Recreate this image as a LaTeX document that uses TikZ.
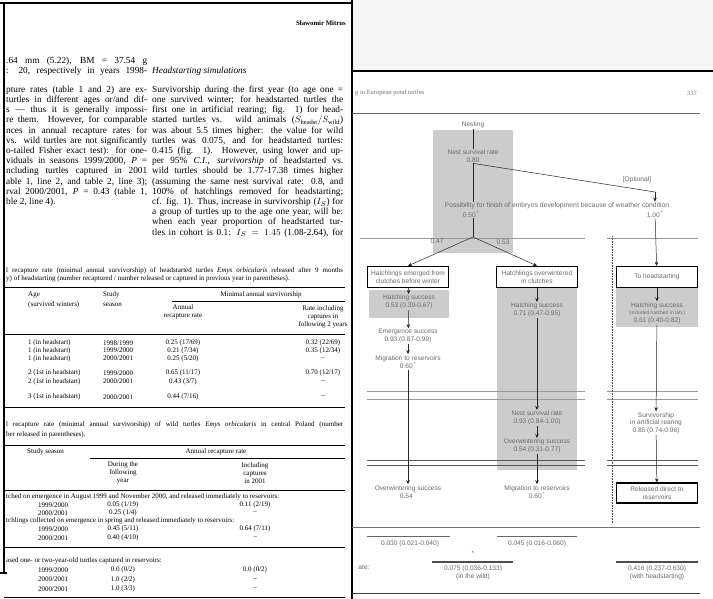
\documentclass[tikz,border=0pt]{standalone}
\usepackage{fontspec}
\setmainfont{Liberation Serif}
\newfontfamily\flowfont{Liberation Sans}
\usetikzlibrary{arrows.meta}

% justified lines of the page text
\newcommand{\lcline}[1]{\makebox[141pt][s]{#1}}
\newcommand{\rcline}[1]{\makebox[191pt][s]{#1}}
\newcommand{\capline}[1]{\makebox[337pt][s]{#1}}

\begin{document}
\begin{tikzpicture}[x=1pt,y=-1pt,
    body/.style={anchor=west,inner sep=0pt,font=\fontsize{9.3}{10}\selectfont},
    tab/.style={inner sep=0pt,font=\fontsize{7}{8}\selectfont},
    flow/.style={inner sep=1pt,align=center,text=black!58,font=\flowfont\fontsize{6.6}{7.5}\selectfont},
    flowbox/.style={flow,draw=black,line width=1.3pt,fill=white,minimum width=81pt,minimum height=21pt},
    farrow/.style={-{Stealth[length=4pt,width=3.6pt]},black!85,line width=0.5pt},
    fline/.style={black!85,line width=0.5pt},
    band/.style={black!40,line width=0.6pt},
    tabrule/.style={line width=1pt},
    subrule/.style={line width=0.5pt}]

    % Pages
    \useasboundingbox (0,0) rectangle (713,599);
    \fill[white] (0,0) rectangle (713,599);
    \fill[black!4] (352,0) rectangle (713,71);
    \draw[line width=2pt] (0,3) -- (352,3);
    \draw[line width=1.6pt] (4,3) -- (4,573);
    \draw[line width=1.2pt] (0,573) -- (7,573);
    \draw[line width=2pt] (352,0) -- (352,599);
    \draw[line width=1.5pt] (352,71) -- (713,71);

    % Left page text
    \node[anchor=east,inner sep=0pt,font=\fontsize{6.8}{8}\bfseries\selectfont] (runhead) at (346,23) {Sławomir Mitrus};
    \node[body] (lcA) at (6,61) {\lcline{.64 mm (5.22), BM = 37.54 g}};
    \node[body] (lcB) at (6,71) {\lcline{: 20, respectively in years 1998-}};
    \foreach \t [count=\i] in {{pture rates (table 1 and 2) are ex-},
        {turtles in different ages or/and dif-},
        {s — thus it is generally impossi-},
        {re them. However, for comparable},
        {nces in annual recapture rates for},
        {vs. wild turtles are not significantly},
        {o-tailed Fisher exact test): for one-},
        {viduals in seasons 1999/2000, \textit{P} =},
        {ncluding turtles captured in 2001},
        {able 1, line 2, and table 2, line 3);},
        {rval 2000/2001, \textit{P} = 0.43 (table 1,}}
        \node[body] (lc\i) at (6,{90+(\i-1)*10.2}) {\lcline{\t}};
    \node[body] (lcend) at (6,202.2) {ble 2, line 4).};

    \node[body] (rchead) at (152,71) {\textit{Headstarting simulations}};
    \foreach \t [count=\i] in {{Survivorship during the first year (to age one =},
        {one survived winter; for headstarted turtles the},
        {first one in artificial rearing; fig. 1) for head-},
        {started turtles vs. wild animals ($S_{\mathrm{headst}}/S_{\mathrm{wild}}$)},
        {was about 5.5 times higher: the value for wild},
        {turtles was 0.075, and for headstarted turtles:},
        {0.415 (fig. 1). However, using lower and up-},
        {per 95\% \textit{C.I.}, \textit{survivorship} of headstarted vs.},
        {wild turtles should be 1.77-17.38 times higher},
        {(assuming the same nest survival rate: 0.8, and},
        {100\% of hatchlings removed for headstarting;},
        {cf. fig. 1). Thus, increase in survivorship ($I_S$) for},
        {a group of turtles up to the age one year, will be:},
        {when each year proportion of headstarted tur-},
        {tles in cohort is 0.1: $I_S = 1.45$ (1.08-2.64), for}}
        \node[body] (rc\i) at (152,{90+(\i-1)*10.2}) {\rcline{\t}};

    % Table 1
    \node[tab,anchor=west] (capA1) at (6,271) {\capline{l recapture rate (minimal annual survivorship) of headstarted turtles \textit{Emys orbicularis} released after 9 months}};
    \node[tab,anchor=west] (capA2) at (6,279) {y) of headstarting (number recaptured / number released or captured in previous year in parentheses).};
    \draw[tabrule] (4,287) -- (345,287);
    \node[tab,anchor=west] (hAge) at (28,295) {Age};
    \node[tab,anchor=west] (hAgeb) at (28,305) {(survived winters)};
    \node[tab,anchor=west] (hStudy) at (103,295) {Study};
    \node[tab,anchor=west] (hStudyb) at (103,305) {season};
    \node[tab] (hMin) at (261,295) {Minimal annual survivorship};
    \draw[subrule] (172,301) -- (345,301);
    \node[tab,align=center] (hAnn) at (183,312) {Annual\\recapture rate};
    \node[tab,align=center] (hIncl) at (323,317) {Rate including\\captures in\\following 2 years};
    \draw[subrule] (4,334) -- (345,334);
    \foreach \yy/\age/\season/\ann/\incl [count=\i] in {
        343/{1 (in headstart)}/{1998/1999}/{0.25 (17/69)}/{0.32 (22/69)},
        350.5/{1 (in headstart)}/{1999/2000}/{0.21 (7/34)}/{0.35 (12/34)},
        358.5/{1 (in headstart)}/{2000/2001}/{0.25 (5/20)}/{–},
        373/{2 (1st in headstart)}/{1999/2000}/{0.65 (11/17)}/{0.70 (12/17)},
        381.5/{2 (1st in headstart)}/{2000/2001}/{0.43 (3/7)}/{–},
        397/{3 (1st in headstart)}/{2000/2001}/{0.44 (7/16)}/{–}}
    {
        \node[tab,anchor=west] (ta\i) at (28,\yy) {\age};
        \node[tab,anchor=west] (ts\i) at (103,\yy) {\season};
        \node[tab] (tr\i) at (183,\yy) {\ann};
        \node[tab] (ti\i) at (323,\yy) {\incl};
    }
    \draw[tabrule] (4,407) -- (345,407);

    % Table 2
    \node[tab,anchor=west] (capB1) at (6,425) {\capline{l recapture rate (minimal annual survivorship) of wild turtles \textit{Emys orbicularis} in central Poland (number}};
    \node[tab,anchor=west] (capB2) at (6,435) {ber released in parentheses).};
    \draw[tabrule] (4,445) -- (345,445);
    \node[tab,anchor=west] (hSeason) at (27,452) {Study season};
    \node[tab] (hRate) at (216,452) {Annual recapture rate};
    \draw[subrule] (90,458) -- (345,458);
    \node[tab,align=center] (hDur) at (123,473) {During the\\following\\year};
    \node[tab,align=center] (hCap) at (255,473) {Including\\captures\\in 2001};
    \draw[subrule] (4,490) -- (345,490);
    \node[tab,anchor=west] (grpA) at (6,497) {tched on emergence in August 1999 and November 2000, and released immediately to reservoirs:};
    \node[tab,anchor=west] (grpB) at (6,521) {tchlings collected on emergence in spring and released immediately to reservoirs:};
    \draw[subrule] (4,547) -- (345,547);
    \node[tab,anchor=west] (grpC) at (6,561) {ased one- or two-year-old turtles captured in reservoirs:};
    \foreach \yy/\season/\dur/\incl [count=\i] in {
        505/{1999/2000}/{0.05 (1/19)}/{0.11 (2/19)},
        513/{2000/2001}/{0.25 (1/4)}/{–},
        529/{1999/2000}/{0.45 (5/11)}/{0.64 (7/11)},
        538/{2000/2001}/{0.40 (4/10)}/{–},
        570/{1999/2000}/{0.0 (0/2)}/{0.0 (0/2)},
        579.5/{2000/2001}/{1.0 (2/2)}/{–},
        589/{2000/2001}/{1.0 (3/3)}/{–}}
    {
        \node[tab,anchor=west] (us\i) at (38,\yy) {\season};
        \node[tab] (ud\i) at (123,\yy) {\dur};
        \node[tab] (ui\i) at (255,\yy) {\incl};
    }
    \draw[tabrule] (4,597) -- (345,597);

    % Right page frame lines
    \node[anchor=west,inner sep=0pt,text=black!55,font=\fontsize{6.5}{8}\selectfont] (pghead) at (355,93) {g in European pond turtles};
    \node[inner sep=0pt,text=black!55,font=\fontsize{6.5}{8}\selectfont] (pgnum) at (692,93) {337};
    \draw[black!60,line width=0.8pt] (352,113) -- (700,113);
    \draw[black!55,line width=0.8pt] (352,527) -- (700,527);
    \draw[black!75,line width=1pt] (352,593) -- (700,593);

    % Shaded stages
    \fill[gray!40] (433,130) rectangle (513,253);
    \fill[gray!40] (369,290) rectangle (449,318);
    \fill[gray!40] (497,288) rectangle (577,470);
    \fill[gray!40] (616,288) rectangle (698,327);

    % Season bands
    \draw[band] (360,238) -- (585,238) (607,238) -- (698,238);
    \draw[band] (367,391) -- (585,391) (607,391) -- (698,391);
    \draw[band] (367,399) -- (585,399) (607,399) -- (698,399);
    \draw[band,black!65] (367,460) -- (585,460) (607,460) -- (698,460);
    \draw[band,black!65] (367,465) -- (585,465) (607,465) -- (698,465);
    \draw[black!70,line width=0.7pt,dash pattern=on 0.8pt off 0.8pt] (612,236) -- (612,524);

    % Nesting
    \node[flow] (nest) at (473,125) {Nesting};
    \node[flow] (nsr) at (473,156) {Nest survival rate\\0.80};
    \node[flow] (opt) at (637,180) {[Optional]};
    \node[flow,font=\flowfont\fontsize{6.8}{8}\selectfont] (poss) at (557,206) {Possibility for finish of embryos development because of weather condition};
    \node[flow] (p50) at (471,214) {0.50\,\textsuperscript{*}};
    \node[flow] (p100) at (655,214) {1.00\,\textsuperscript{*}};
    \node[flow] (q47) at (437,241) {0.47};
    \node[flow] (q53) at (503,242) {0.53};
    \coordinate (fork) at (473,237);
    \coordinate (optbend) at (655,192);

    % Columns
    \node[flowbox] (hemw) at (408,277) {Hatchlings emerged from\\clutches before winter};
    \node[flow] (hs1) at (409,302) {Hatching success\\0.53 (0.39-0.67)};
    \node[flow] (es1) at (408,336) {Emergence success\\0.93 (0.87-0.99)};
    \node[flow] (mig1) at (408,362) {Migration to reservoirs\\0.60\,\textsuperscript{*}};
    \node[flow] (ows1) at (408,492) {Overwintering success\\0.54\,\textsuperscript{*}};

    \node[flowbox] (hoic) at (537,277) {Hatchlings overwintered\\in clutches};
    \node[flow] (hs2) at (537,310) {Hatching success\\0.71 (0.47-0.95)};
    \node[flow] (nsr2) at (537,418) {Nest survival rate\\0.93 (0.84-1.00)};
    \node[flow] (ows2) at (537,446) {Overwintering success\\0.54 (0.31-0.77)};
    \node[flow] (mig2) at (537,492) {Migration to reservoirs\\0.60\,\textsuperscript{*}};

    \node[flowbox] (toh) at (657,277) {To headstarting};
    \node[flow] (hs3) at (657,313) {Hatching success\\{\fontsize{5}{6}\selectfont(included hatched in lab.)}\\0.61 (0.40-0.82)};
    \node[flow] (surv) at (656,423) {Survivorship\\in artificial rearing\\0.85 (0.74-0.96)};
    \node[flowbox,minimum height=20pt] (rel) at (657,493) {Released direct to\\reservoirs};

    % Arrows
    \draw[fline] (nest) -- (nsr);
    \draw[fline] (nsr.south) -- (nsr.south |- poss.north);
    \draw[fline] (nsr.south) -- (optbend);
    \draw[farrow] (optbend) -- (optbend |- poss.north);
    \draw[fline] (p50.south -| fork) -- (fork);
    \draw[farrow] (fork) -- (hemw.north);
    \draw[farrow] (fork) -- (hoic.north);
    \draw[farrow] (p100) -- (toh);
    \draw[farrow] (hemw) -- (hs1);
    \draw[farrow] (hs1) -- (es1);
    \draw[farrow] (es1) -- (mig1);
    \draw[farrow] (mig1) -- (ows1);
    \draw[farrow] (hoic) -- (hs2);
    \draw[farrow] (hs2) -- (nsr2);
    \draw[farrow] (nsr2) -- (ows2);
    \draw[farrow] (ows2) -- (mig2);
    \draw[farrow] (toh) -- (hs3);
    \draw[farrow] (hs3) -- (surv);
    \draw[farrow] (surv) -- (rel);

    % Totals
    \node[flow] (rate) at (364,567) {ate:};
    \node[flow] (r1) at (410,544) {0.030 (0.021-0.040)};
    \node[flow] (r2) at (537,544) {0.045 (0.016-0.060)};
    \node[flow] (times) at (473,553) {*};
    \node[flow] (r3) at (473,573) {0.075 (0.036-0.133)\\(in the wild)};
    \node[flow] (r4) at (657,573) {0.416 (0.237-0.630)\\(with headstarting)};
    \draw[black!60,line width=0.6pt] (367,536) -- (450,536);
    \draw[black!60,line width=0.6pt] (497,536) -- (577,536);
    \draw[black!70,line width=1.5pt] (432,562) -- (513,562);
    \draw[black!70,line width=1.5pt] (616,562) -- (698,562);
\end{tikzpicture}
\end{document}
